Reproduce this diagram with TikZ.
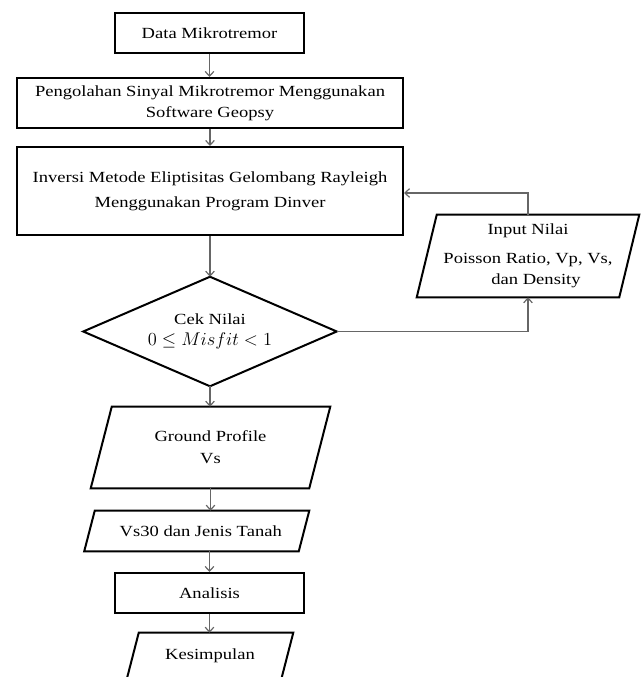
\documentclass[tikz,border=0pt]{standalone}
\usepackage{graphicx}
\usepackage{fontspec}
\setmainfont{Liberation Serif}[FakeStretch=1.2]
\usetikzlibrary{arrows.meta}
\def\pxu{0.75pt}
\begin{document}
\begin{tikzpicture}[x=0.75pt,y=-0.75pt,
  box/.style={draw=black,line width=1.5pt},
  txt/.style={inner sep=0pt,align=center,font=\fontsize{11.6}{15.75}\selectfont},
  conn/.style={draw=black!60,line width=0.9pt,-{Straight Barb[length=3.5pt,width=6.5pt]}}]
\useasboundingbox (0,0) rectangle (640,677);

\node[txt,box,minimum width=189*\pxu,minimum height=40*\pxu] (data) at (209.5,33) {Data Mikrotremor};
\node[txt,box,minimum width=386*\pxu,minimum height=50*\pxu] (peng) at (210,103)
  {Pengolahan Sinyal Mikrotremor Menggunakan\\ Software Geopsy};
\node[txt,box,minimum width=386*\pxu,minimum height=88*\pxu,font=\fontsize{11.6}{18.75}\selectfont] (inv) at (210,191)
  {Inversi Metode Eliptisitas Gelombang Rayleigh\\ Menggunakan Program Dinver};
\node[txt,minimum width=222*\pxu,minimum height=82*\pxu] (inp) at (528,256)
  {Input Nilai\\[6pt] Poisson Ratio, Vp, Vs,\\ \hspace*{12pt}dan Density};
\node[txt,minimum width=253*\pxu,minimum height=109*\pxu] (ck) at (210,331.5)
  {Cek Nilai\\ \scalebox{1.15}{$0\le Misfit<1$}};
\node[txt,minimum width=239*\pxu,minimum height=81*\pxu,font=\fontsize{11.6}{16.5}\selectfont] (gp) at (210.5,447.5)
  {Ground Profile\\ Vs};
\node[txt,minimum width=224.5*\pxu,minimum height=40*\pxu] (vs) at (196.75,531)
  {\hspace*{6pt}Vs30 dan Jenis Tanah};
\node[txt,box,minimum width=189*\pxu,minimum height=40*\pxu] (an) at (209.5,593) {Analisis};
\node[txt,minimum width=166*\pxu,minimum height=46*\pxu] (ks) at (210,656) {Kesimpulan};

% shapes
\draw[box] ([xshift=20*\pxu]inp.north west) -- (inp.north east) -- ([xshift=-20*\pxu]inp.south east) -- (inp.south west) -- cycle;
\draw[box] (ck.north) -- (ck.east) -- (ck.south) -- (ck.west) -- cycle;
\draw[box] ([xshift=21*\pxu]gp.north west) -- (gp.north east) -- ([xshift=-21*\pxu]gp.south east) -- (gp.south west) -- cycle;
\draw[box] ([xshift=10.5*\pxu]vs.north west) -- (vs.north east) -- ([xshift=-10.5*\pxu]vs.south east) -- (vs.south west) -- cycle;
\draw[box] ([xshift=12*\pxu]ks.north west) -- (ks.north east) -- ([xshift=-12*\pxu]ks.south east) -- (ks.south west) -- cycle;

% connectors
\draw[conn] (data.south) -- (data.south |- peng.north);
\draw[conn] (peng.south) -- (peng.south |- inv.north);
\draw[conn] (inv.south) -- (ck.north);
\draw[conn] (ck.south) -- (ck.south |- gp.north);
\draw[conn] (gp.south) -- (gp.south |- vs.north);
\draw[conn] (an.north |- vs.south) -- (an.north);
\draw[conn] (an.south) -- (an.south |- ks.north);
\draw[conn] (ck.east) -| (inp.south);
\draw[conn] (inp.north) |- ([yshift=-1.5pt]inv.east);
\end{tikzpicture}
\end{document}
